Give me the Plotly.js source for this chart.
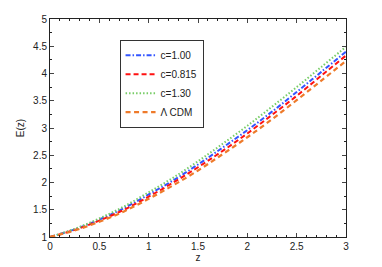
<!DOCTYPE html>
<html>
<head>
<meta charset="utf-8">
<script src="https://cdn.plot.ly/plotly-3.0.1.min.js"></script>
<style>html,body{margin:0;padding:0;background:#fff;}#chart{width:382px;height:267px;}</style>
</head>
<body>
<div id="chart"></div>
<script>
var z = [0, 0.25, 0.5, 0.75, 1, 1.25, 1.5, 1.75, 2, 2.25, 2.5, 2.75, 3];
var E_c100 = [1, 1.14, 1.32, 1.53, 1.78, 2.04, 2.33, 2.64, 2.96, 3.30, 3.66, 4.03, 4.40];
var E_c0815 = [1, 1.13, 1.30, 1.50, 1.74, 2.00, 2.28, 2.58, 2.90, 3.24, 3.59, 3.96, 4.33];
var E_c130 = [1, 1.15, 1.34, 1.56, 1.82, 2.09, 2.39, 2.71, 3.04, 3.39, 3.75, 4.12, 4.49];
var E_lcdm = [1, 1.12, 1.28, 1.47, 1.70, 1.95, 2.22, 2.52, 2.83, 3.16, 3.51, 3.87, 4.23];
var names = ['c=1.00', 'c=0.815', 'c=1.30', '\u039B CDM'];
var xTicks = [0, 0.5, 1, 1.5, 2, 2.5, 3];
var yTicks = [1, 1.5, 2, 2.5, 3, 3.5, 4, 4.5, 5];

var traces = [
  {x: z, y: E_c100, name: names[0], mode: 'lines', line: {color: '#3355ff', width: 2, dash: '5px,2px,1.5px,2px', shape: 'spline'}},
  {x: z, y: E_c0815, name: names[1], mode: 'lines', line: {color: '#ff1111', width: 2, dash: '5px,3px', shape: 'spline'}},
  {x: z, y: E_c130, name: names[2], mode: 'lines', line: {color: '#77cc66', width: 2, dash: '1.5px,2px', shape: 'spline'}},
  {x: z, y: E_lcdm, name: names[3], mode: 'lines', line: {color: '#ee7a2a', width: 2.2, dash: '5px,3.5px', shape: 'spline'}}
];

var fontFam = 'Liberation Sans, Arial, sans-serif';
var layout = {
  width: 382, height: 267,
  margin: {l: 50, r: 36, t: 19, b: 30},
  paper_bgcolor: '#fff', plot_bgcolor: '#fff',
  font: {family: fontFam, size: 10, color: '#222'},
  showlegend: true,
  legend: {x: 0.235, y: 0.905, xanchor: 'left', yanchor: 'top', bordercolor: '#333', borderwidth: 1,
    bgcolor: '#fff', font: {family: fontFam, size: 10, color: '#222'}, tracegroupgap: 0, itemwidth: 30},
  xaxis: {range: [0, 3], tickvals: xTicks, ticktext: xTicks.map(String), ticks: 'inside', ticklen: 4,
    showline: true, linecolor: '#222', linewidth: 1, mirror: 'allticks', showgrid: false, zeroline: false,
    tickfont: {size: 10}, title: {text: 'z', font: {size: 10}, standoff: 2},
    minor: {dtick: 0.1, ticks: 'inside', ticklen: 2, tickcolor: '#222', showgrid: false}},
  yaxis: {range: [1, 5], tickvals: yTicks, ticktext: yTicks.map(String), ticks: 'inside', ticklen: 4,
    showline: true, linecolor: '#222', linewidth: 1, mirror: 'allticks', showgrid: false, zeroline: false,
    tickfont: {size: 10}, title: {text: 'E(z)', font: {size: 10}, standoff: 6},
    minor: {dtick: 0.25, ticks: 'inside', ticklen: 2, tickcolor: '#222', showgrid: false}}
};
Plotly.newPlot('chart', traces, layout, {displayModeBar: false, staticPlot: true});
</script>
</body>
</html>
